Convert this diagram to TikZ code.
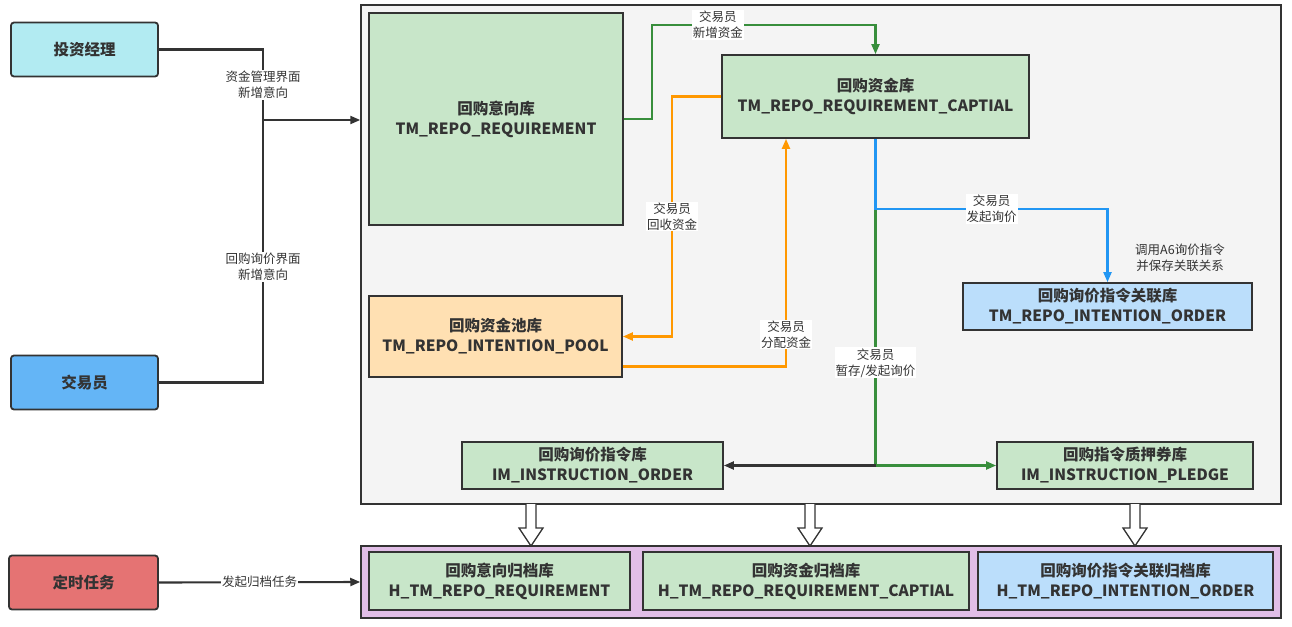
\documentclass[tikz,border=0pt]{standalone}
\usepackage{fontspec}
\setmainfont{Noto Sans CJK SC}
\usepackage{tikz}
\usetikzlibrary{arrows.meta,positioning,calc}
\definecolor{RPInk}{HTML}{333333}
\definecolor{RPFrame}{HTML}{F4F4F4}
\definecolor{RPGreen}{HTML}{C8E6C9}
\definecolor{RPCyan}{HTML}{B2EBF2}
\definecolor{RPBlue}{HTML}{64B5F6}
\definecolor{RPSky}{HTML}{BBDEFB}
\definecolor{RPOrange}{HTML}{FFE0B2}
\definecolor{RPRed}{HTML}{E57373}
\definecolor{RPPurple}{HTML}{E1BEE7}
\definecolor{LineGreen}{HTML}{388E3C}
\definecolor{LineOrange}{HTML}{FF9800}
\definecolor{LineBlue}{HTML}{2196F3}

\begin{document}
\begin{tikzpicture}[
  x=1pt, y=-1pt,
  table/.style={draw=RPInk, line width=1.8pt, align=center, inner sep=0pt,
                text=RPInk, font=\fontsize{15.5}{20}\selectfont\bfseries},
  role/.style={table, rounded corners=3pt, minimum width=147pt, minimum height=54pt},
  frame/.style={draw=RPInk, line width=1.5pt, inner sep=0pt},
  flow/.style={line width=2.1pt, draw=RPInk, -{Triangle[length=10pt,width=8pt]}},
  flowg/.style={flow, draw=LineGreen},
  flowo/.style={flow, draw=LineOrange},
  flowb/.style={flow, draw=LineBlue},
  lbl/.style={font=\fontsize{12.5}{16}\selectfont, text=RPInk, align=center,
              fill=white, inner sep=1pt},
  hollow/.style={draw=RPInk, line width=1.3pt, fill=white},
]
\useasboundingbox (0,0) rectangle (1292,626);

% --- Containers ---
\node[frame, fill=RPFrame, minimum width=920pt, minimum height=499pt] (main) at (821,254.5) {};
\node[frame, fill=RPPurple, minimum width=920pt, minimum height=72pt] (arch) at (821,582) {};

% --- Roles ---
\node[role, fill=RPCyan] (pm) at (84.5,49.5) {投资经理};
\node[role, fill=RPBlue] (trader) at (84.5,382.5) {交易员};
\node[role, fill=RPRed, minimum width=149pt] (timer) at (83.5,582.5) {定时任务};

% --- Tables ---
\node[table, fill=RPGreen, minimum width=254pt, minimum height=212pt] (req) at (496,119)
  {回购意向库\\TM\_REPO\_REQUIREMENT};
\node[table, fill=RPGreen, minimum width=307pt, minimum height=83pt] (cap) at (875.5,96.5)
  {回购资金库\\TM\_REPO\_REQUIREMENT\_CAPTIAL};
\node[table, fill=RPOrange, minimum width=253pt, minimum height=81pt] (pool) at (495.5,336.5)
  {回购资金池库\\TM\_REPO\_INTENTION\_POOL};
\node[table, fill=RPSky, minimum width=289pt, minimum height=47pt] (ord) at (1107.5,306.5)
  {回购询价指令关联库\\TM\_REPO\_INTENTION\_ORDER};
\node[table, fill=RPGreen, minimum width=261pt, minimum height=47pt] (ins) at (592.5,465.5)
  {回购询价指令库\\IM\_INSTRUCTION\_ORDER};
\node[table, fill=RPGreen, minimum width=256pt, minimum height=47pt] (pledge) at (1125,465.5)
  {回购指令质押券库\\IM\_INSTRUCTION\_PLEDGE};

% --- Archive tables ---
\node[table, fill=RPGreen, minimum width=261pt, minimum height=58pt] (hreq) at (499.5,581)
  {回购意向归档库\\H\_TM\_REPO\_REQUIREMENT};
\node[table, fill=RPGreen, minimum width=326pt, minimum height=58pt] (hcap) at (806,581)
  {回购资金归档库\\H\_TM\_REPO\_REQUIREMENT\_CAPTIAL};
\node[table, fill=RPSky, minimum width=295pt, minimum height=58pt] (hord) at (1125.5,581)
  {回购询价指令关联归档库\\H\_TM\_REPO\_INTENTION\_ORDER};

% --- Role entries ---
\coordinate (jin) at (263,120);
\draw[flow, -] (pm.east) -| node[lbl, pos=0.75] {资金管理界面\\新增意向} (jin);
\draw[flow, -] (trader.east) -| node[lbl, pos=0.72] {回购询价界面\\新增意向} (jin);
\draw[flow] (jin) -- (jin -| main.west);

% --- Capital flows ---
\coordinate (gtop) at (652,25);
\draw[flowg] (req.east) -| (gtop) -- node[lbl, pos=0.295] {交易员\\新增资金} (gtop -| cap.north) -- (cap.north);
\draw[flowo] (cap.west) -- ++(-49,0) |- node[lbl, pos=0.25] {交易员\\回收资金} (pool.east);
\draw[flowo] ([yshift=-30pt]pool.east) -| node[lbl, pos=0.57] {交易员\\分配资金} ([xshift=-89.5pt]cap.south);

% --- Inquiry flows ---
\coordinate (bj) at (875.5,209);
\coordinate (gj) at (bj |- pledge.west);
\draw[flowg, -] (bj) -- node[lbl, pos=0.6] {交易员\\暂存/发起询价} (gj);
\draw[flowg] (gj) -- (pledge.west);
\draw[flow] (gj) -- (ins.east);
\draw[flowb] (cap.south) -- (bj) -| node[lbl, pos=0.25] {交易员\\发起询价} (ord.north);
\node[lbl, fill=none] (a6) at (1180,258) {调用A6询价指令\\并保存关联关系};

% --- Archive ---
\draw[flow] (timer.east) -- node[lbl] {发起归档任务} (arch.west);
\foreach \x in {531,810,1135} {
  \draw[hollow] (\x-5,504) -- (\x-5,528) -- (\x-12,528) -- (\x,546)
    -- (\x+12,528) -- (\x+5,528) -- (\x+5,504);
}

\end{tikzpicture}
\end{document}
